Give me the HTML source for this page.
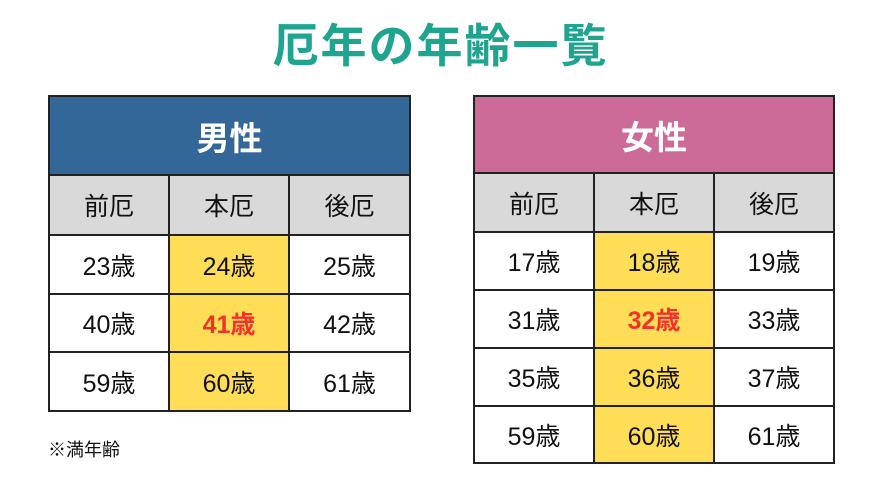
<!DOCTYPE html>
<html><head><meta charset="utf-8"><style>
body{margin:0;width:881px;height:481px;background:#fff;position:relative;overflow:hidden;font-family:"Liberation Sans","Noto Sans CJK JP",sans-serif}
h1{position:absolute;left:0;width:881px;top:16px;margin:0;text-align:center;font-size:46px;font-weight:bold;color:#1fa58f;letter-spacing:2px;line-height:60px}
table{position:absolute;border-collapse:collapse;table-layout:fixed}
td{border:2px solid #222;text-align:center;font-size:25px;color:#111;padding:0}
.h td{color:#fff;font-size:33px;font-weight:bold}
.g td{background:#d9d9d9}
.y{background:#ffdd57}
.r{color:#f5312a;font-weight:bold}
.note{position:absolute;left:48px;top:436px;font-size:18px;color:#111}
</style></head><body>
<h1>厄年の年齢一覧</h1>
<table style="left:48px;top:95px;width:361px">
<colgroup><col style="width:120px"><col style="width:120px"><col style="width:121px"></colgroup>
<tr class="h" style="height:79px"><td colspan="3" style="background:#336797">男性</td></tr>
<tr class="g" style="height:60px"><td>前厄</td><td>本厄</td><td>後厄</td></tr>
<tr style="height:59px"><td>23歳</td><td class="y">24歳</td><td>25歳</td></tr>
<tr style="height:58px"><td>40歳</td><td class="y r">41歳</td><td>42歳</td></tr>
<tr style="height:59px"><td>59歳</td><td class="y">60歳</td><td>61歳</td></tr>
</table>
<table style="left:473px;top:95px;width:360px">
<colgroup><col style="width:120px"><col style="width:120px"><col style="width:120px"></colgroup>
<tr class="h" style="height:77px"><td colspan="3" style="background:#cd6b98">女性</td></tr>
<tr class="g" style="height:59px"><td>前厄</td><td>本厄</td><td>後厄</td></tr>
<tr style="height:58px"><td>17歳</td><td class="y">18歳</td><td>19歳</td></tr>
<tr style="height:58px"><td>31歳</td><td class="y r">32歳</td><td>33歳</td></tr>
<tr style="height:58px"><td>35歳</td><td class="y">36歳</td><td>37歳</td></tr>
<tr style="height:57px"><td>59歳</td><td class="y">60歳</td><td>61歳</td></tr>
</table>
<div class="note">※満年齢</div>
</body></html>
